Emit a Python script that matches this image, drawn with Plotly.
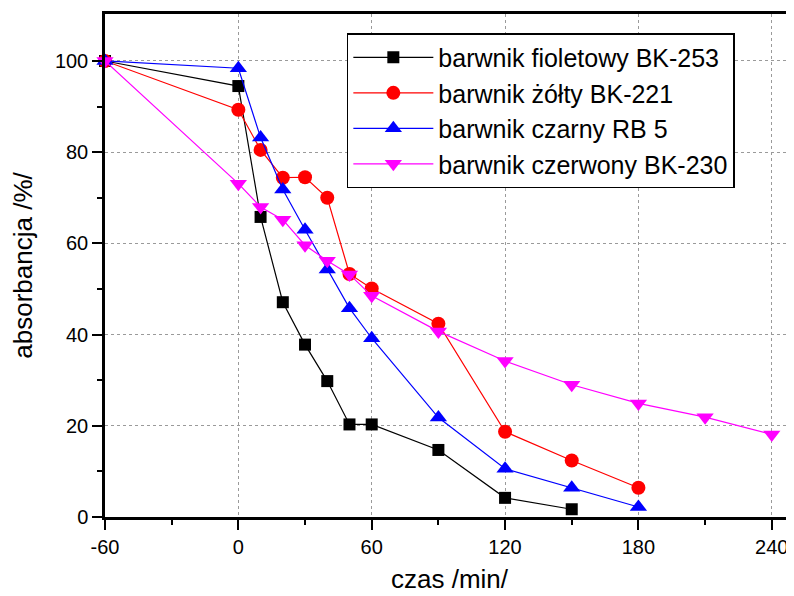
import plotly.graph_objects as go

czas_fioletowy = [-60, 0, 10, 20, 30, 40, 50, 60, 90, 120, 150]
abs_fioletowy = [100, 94.5, 65.8, 47.1, 37.8, 29.8, 20.3, 20.3, 14.7, 4.2, 1.7]

czas_zolty = [-60, 0, 10, 20, 30, 40, 50, 60, 90, 120, 150, 180]
abs_zolty = [100, 89.3, 80.5, 74.4, 74.5, 70.0, 53.3, 50.1, 42.4, 18.7, 12.4, 6.4]

czas_czarny = [-60, 0, 10, 20, 30, 40, 50, 60, 90, 120, 150, 180]
abs_czarny = [100, 98.4, 83.2, 71.8, 63.0, 54.3, 45.8, 39.2, 21.8, 10.6, 6.4, 2.2]

czas_czerwony = [-60, 0, 10, 20, 30, 40, 50, 60, 90, 120, 150, 180, 210, 240]
abs_czerwony = [100, 73.1, 68.0, 65.2, 59.6, 56.2, 53.2, 48.5, 40.7, 34.2, 29.0, 24.9, 21.9, 18.1]

x_ticki = [-60, 0, 60, 120, 180, 240]
x_etykiety = ['-60', '0', '60', '120', '180', '240']
y_ticki = [0, 20, 40, 60, 80, 100]

serie = [
    ('barwnik fioletowy BK-253', czas_fioletowy, abs_fioletowy, 'black', 'square', 12),
    ('barwnik żółty BK-221', czas_zolty, abs_zolty, 'red', 'circle', 14),
    ('barwnik czarny RB 5', czas_czarny, abs_czarny, 'blue', 'triangle-up', 15),
    ('barwnik czerwony BK-230', czas_czerwony, abs_czerwony, 'magenta', 'triangle-down', 15),
]

fig = go.Figure()

for nazwa, x, y, kolor, symbol, rozmiar in serie:
    fig.add_trace(go.Scatter(
        x=x,
        y=y,
        name=nazwa,
        mode='lines+markers',
        line=dict(color=kolor, width=1.2),
        marker=dict(color=kolor, symbol=symbol, size=rozmiar, line=dict(width=0)),
        cliponaxis=False
    ))

os_wspolna = dict(
    showline=True,
    linecolor='black',
    linewidth=2.5,
    ticks='outside',
    ticklen=10,
    tickwidth=2,
    tickcolor='black',
    showgrid=True,
    gridcolor='#9a9a9a',
    griddash='dot',
    gridwidth=1,
    zeroline=False,
    automargin=False,
    tickfont=dict(size=20, color='black'),
)

# strona ma 8 px marginesu body, stąd figura mniejsza o 8 px
fig.update_layout(
    width=786,
    height=588,
    paper_bgcolor='white',
    plot_bgcolor='white',
    font=dict(family='Liberation Sans, Arial, sans-serif', color='black'),
    margin=dict(l=97, r=0, t=6, b=79),
    xaxis=dict(
        **os_wspolna,
        range=[-60, 250],
        tickvals=x_ticki,
        ticktext=x_etykiety,
        mirror=True,
        minor=dict(tickvals=[-30, 30, 90, 150, 210], ticklen=5, tickwidth=2,
                   tickcolor='black', ticks='outside', showgrid=False),
        title=dict(text='czas /min/', font=dict(size=26), standoff=14),
    ),
    yaxis=dict(
        **os_wspolna,
        range=[0, 110.3],
        tickvals=y_ticki,
        minor=dict(tickvals=[10, 30, 50, 70, 90], ticklen=5, tickwidth=2,
                   tickcolor='black', ticks='outside', showgrid=False),
        title=dict(text='absorbancja /%/', font=dict(size=26), standoff=16),
    ),
    legend=dict(
        x=0.351,
        y=0.962,
        xanchor='left',
        yanchor='top',
        bgcolor='white',
        bordercolor='black',
        borderwidth=1.5,
        font=dict(size=25),
        itemwidth=80,
        entrywidth=415,
        tracegroupgap=0,
    ),
    showlegend=True,
)

fig.write_html("out.html")
